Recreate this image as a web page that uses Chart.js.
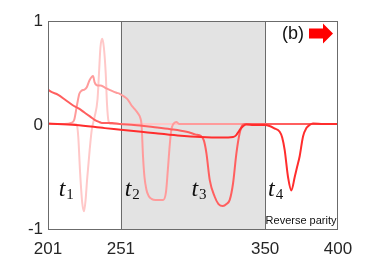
<!DOCTYPE html>
<html>
<head>
<meta charset="utf-8">
<script src="https://cdn.jsdelivr.net/npm/chart.js@4/dist/chart.umd.min.js"></script>
<style>
html,body{margin:0;padding:0;background:#fff;}
#wrap{width:374px;height:280px;position:relative;}
</style>
</head>
<body>
<div id="wrap"><canvas id="c" width="374" height="280"></canvas></div>
<script>
// X range and tick labels
const xMin = 201, xMax = 400;
const xTicks = [201, 251, 350, 400];
const yTicks = [-1, 0, 1];
const yTickLabels = ['-1', '0', '1'];
const shadeFrom = 251, shadeTo = 350;

// Series A (lightest, t1)
const aX = [201,215,219,220.8,221.8,223,224.5,225.7,226.8,227.8,229.6,231,233,235,236,237,238.2,239.3,240.6,241.5,242.5,244,300,400];
const aY = [0.01,0.01,0.01,0.0,-0.12,-0.45,-0.75,-0.83,-0.72,-0.53,-0.24,-0.05,0.08,0.25,0.5,0.75,0.83,0.75,0.5,0.2,0.04,0.01,0.01,0.01];

// Series B (pink, t2)
const bX = [201,212,217,219,221,222.5,224,226,227.5,229.5,231.9,233,235,237,240,244.5,248,250.2,253.6,256,258.2,260,262.8,264.3,265.2,266.2,267.2,268.5,270,272,275,280,282,283.3,284.5,285.6,287,289,291,400];
const bY = [0.01,0.01,0.02,0.05,0.2,0.3,0.33,0.34,0.36,0.43,0.47,0.41,0.38,0.38,0.36,0.33,0.31,0.30,0.27,0.24,0.19,0.16,0.11,0.07,0.0,-0.3,-0.5,-0.62,-0.68,-0.71,-0.72,-0.72,-0.64,-0.42,-0.2,-0.05,0.01,0.03,0.01,0.01];

// Series C (medium red, t3)
const cX = [201,203,208,213,218,222,226,230,233,236,238,245,250,260,273,285,296,302,306,308,309.7,312,315.4,318,321,323.5,325.7,328,330.3,332.5,334,336,350,400];
const cY = [0.34,0.32,0.29,0.24,0.19,0.16,0.12,0.08,0.05,0.03,0.02,0.02,0.01,0.0,-0.02,-0.04,-0.065,-0.09,-0.107,-0.15,-0.27,-0.53,-0.69,-0.76,-0.78,-0.76,-0.72,-0.56,-0.27,-0.08,-0.01,0.01,0.01,0.01];

// Series D (bright red, t4)
const dX = [201,220,240,251,265,275,290,306,320,328,330,331.5,333,335,337,342,350,353,356,360,361.7,363.4,365.7,368,370.3,372,373.7,376,378.3,380.5,382.8,390,400];
const dY = [0.015,0.0,-0.03,-0.045,-0.065,-0.08,-0.1,-0.115,-0.12,-0.115,-0.1,-0.07,-0.04,-0.01,0.005,0.0,0.0,-0.01,-0.03,-0.065,-0.12,-0.24,-0.5,-0.63,-0.5,-0.4,-0.3,-0.11,-0.03,0.0,0.015,0.01,0.01];

// Annotations
const stageLabels = [
  {x: 208.3, sub: '1'},
  {x: 253.6, sub: '2'},
  {x: 299.4, sub: '3'},
  {x: 352.0, sub: '4'}
];
const stageBaseline = -0.68;

function pts(xs, ys){ return xs.map((x,i)=>({x:x, y:ys[i]})); }

const bgPlugin = {
  id: 'bg',
  beforeDatasetsDraw(chart){
    const {ctx, chartArea:a, scales:{x}} = chart;
    const x1 = x.getPixelForValue(shadeFrom), x2 = x.getPixelForValue(shadeTo);
    ctx.save();
    ctx.fillStyle = '#e3e3e3';
    ctx.fillRect(x1, a.top, x2 - x1, a.bottom - a.top);
    ctx.strokeStyle = '#6b6b6b';
    ctx.lineWidth = 1;
    ctx.beginPath();
    ctx.moveTo(Math.round(x1)+0.5, a.top); ctx.lineTo(Math.round(x1)+0.5, a.bottom);
    ctx.moveTo(Math.round(x2)+0.5, a.top); ctx.lineTo(Math.round(x2)+0.5, a.bottom);
    ctx.stroke();
    ctx.restore();
  },
  afterDatasetsDraw(chart){
    const {ctx, chartArea:a, scales:{x, y}} = chart;
    ctx.save();
    // frame
    ctx.strokeStyle = '#6b6b6b';
    ctx.lineWidth = 1;
    ctx.strokeRect(Math.round(a.left)+0.5, Math.round(a.top)+0.5, Math.round(a.right-a.left)-1, Math.round(a.bottom-a.top));
    // stage labels
    ctx.fillStyle = '#111';
    ctx.textBaseline = 'alphabetic';
    ctx.textAlign = 'left';
    const by = y.getPixelForValue(stageBaseline);
    stageLabels.forEach(s=>{
      const px = x.getPixelForValue(s.x);
      ctx.font = 'italic 24px "Liberation Serif", "DejaVu Serif", serif';
      ctx.fillText('t', px, by);
      const w = ctx.measureText('t').width;
      ctx.font = '15px "Liberation Serif", "DejaVu Serif", serif';
      ctx.fillText(s.sub, px + w + 1, by + 3);
    });
    // (b) label
    ctx.font = '18px "Liberation Sans", Arial, sans-serif';
    ctx.fillStyle = '#111';
    ctx.fillText('(b)', a.right - 56, a.top + 18);
    // red arrow
    const ax = a.right - 29, ay = a.top + 12.5;
    ctx.fillStyle = '#ff0000';
    ctx.beginPath();
    ctx.moveTo(ax, ay - 5);
    ctx.lineTo(ax + 14, ay - 5);
    ctx.lineTo(ax + 14, ay - 10);
    ctx.lineTo(ax + 24, ay);
    ctx.lineTo(ax + 14, ay + 10);
    ctx.lineTo(ax + 14, ay + 5);
    ctx.lineTo(ax, ay + 5);
    ctx.closePath();
    ctx.fill();
    // Reverse parity
    ctx.font = '11px "Liberation Sans", Arial, sans-serif';
    ctx.fillStyle = '#111';
    ctx.textAlign = 'right';
    ctx.fillText('Reverse parity', a.right - 1.5, a.bottom - 5);
    ctx.restore();
  }
};

const common = {pointRadius:0, borderWidth:2, fill:false, cubicInterpolationMode:'monotone'};

new Chart(document.getElementById('c'), {
  type: 'line',
  data: {
    datasets: [
      Object.assign({label:'D', data: pts(dX,dY), borderColor:'rgb(255,45,45)'}, common),
      Object.assign({label:'C', data: pts(cX,cY), borderColor:'rgb(255,95,95)'}, common),
      Object.assign({label:'B', data: pts(bX,bY), borderColor:'rgb(255,155,155)'}, common),
      Object.assign({label:'A', data: pts(aX,aY), borderColor:'rgb(255,200,200)'}, common)
    ]
  },
  options: {
    responsive: false,
    animation: false,
    layout: {padding: {top: 21, right: 36, left: 0, bottom: 0}},
    plugins: {legend:{display:false}, tooltip:{enabled:false}},
    scales: {
      x: {
        type: 'linear', min: xMin, max: xMax,
        grid: {display:false, drawTicks:false},
        border: {display:false},
        afterBuildTicks: s => { s.ticks = xTicks.map(v=>({value:v})); },
        afterFit: s => { s.height = 51; },
        ticks: {padding: 10, maxRotation:0, autoSkip:false, color:'#262626',
          font: {family:'"Liberation Sans", Arial, sans-serif', size:17},
          callback: v => String(v)}
      },
      y: {
        type: 'linear', min: -1, max: 1,
        grid: {display:false, drawTicks:false},
        border: {display:false},
        afterBuildTicks: s => { s.ticks = yTicks.map(v=>({value:v})); },
        afterFit: s => { s.width = 48; },
        ticks: {padding: 5, color:'#262626',
          font: {family:'"Liberation Sans", Arial, sans-serif', size:17},
          callback: v => yTickLabels[yTicks.indexOf(v)]}
      }
    }
  },
  plugins: [bgPlugin]
});
</script>
</body>
</html>
